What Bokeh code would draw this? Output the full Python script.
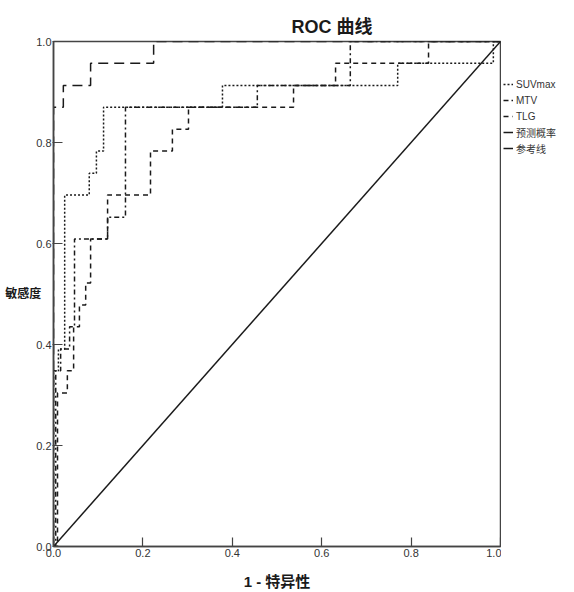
from bokeh.plotting import figure
from bokeh.models import Legend, LegendItem, Range1d, FixedTicker
from bokeh.layouts import row
from bokeh.embed import file_html
from bokeh.resources import INLINE

# ---- data (staircase vertices: 1-specificity, sensitivity)
suv_fpr = [0, 0, 0.011, 0.011, 0.025, 0.025, 0.080, 0.080, 0.096, 0.096, 0.112, 0.112, 0.378, 0.378, 0.770, 0.770, 0.984, 0.984, 1.0]
suv_tpr = [0, 0.348, 0.348, 0.391, 0.391, 0.696, 0.696, 0.739, 0.739, 0.783, 0.783, 0.870, 0.870, 0.913, 0.913, 0.957, 0.957, 1.0, 1.0]

mtv_fpr = [0, 0.005, 0.005, 0.016, 0.016, 0.036, 0.036, 0.047, 0.047, 0.121, 0.121, 0.161, 0.161, 0.456, 0.456, 0.664, 0.664, 1.0]
mtv_tpr = [0, 0, 0.348, 0.348, 0.391, 0.391, 0.435, 0.435, 0.609, 0.609, 0.652, 0.652, 0.870, 0.870, 0.913, 0.913, 1.0, 1.0]

tlg_fpr = [0, 0.009, 0.009, 0.031, 0.031, 0.045, 0.045, 0.058, 0.058, 0.072, 0.072, 0.083, 0.083, 0.121, 0.121, 0.217, 0.217, 0.266, 0.266, 0.302, 0.302, 0.537, 0.537, 0.631, 0.631, 0.839, 0.839, 1.0]
tlg_tpr = [0, 0, 0.304, 0.304, 0.348, 0.348, 0.435, 0.435, 0.478, 0.478, 0.522, 0.522, 0.609, 0.609, 0.696, 0.696, 0.783, 0.783, 0.826, 0.826, 0.870, 0.870, 0.913, 0.913, 0.957, 0.957, 1.0, 1.0]

pred_fpr = [0, 0, 0.022, 0.022, 0.083, 0.083, 0.224, 0.224, 1.0]
pred_tpr = [0, 0.870, 0.870, 0.913, 0.913, 0.957, 0.957, 1.0, 1.0]

ref_x = [0, 1]
ref_y = [0, 1]

series_names = ["SUVmax", "MTV", "TLG", "预测概率", "参考线"]
series_dash = ["2 2", "5 3 2 3", "5 4", "10 6", "solid"]
series_x = [suv_fpr, mtv_fpr, tlg_fpr, pred_fpr, ref_x]
series_y = [suv_tpr, mtv_tpr, tlg_tpr, pred_tpr, ref_y]
tick_values = [0.0, 0.2, 0.4, 0.6, 0.8, 1.0]
tick_labels = {0.0: "0.0", 0.2: "0.2", 0.4: "0.4", 0.6: "0.6", 0.8: "0.8", 1.0: "1.0"}

FONT = "'Liberation Sans', 'Noto Sans CJK SC', sans-serif"
INK = "#1a1a1a"

# ---- main chart
p = figure(width=501, height=592, output_backend="svg", toolbar_location=None,
           x_range=Range1d(0, 1), y_range=Range1d(0, 1),
           min_border_left=53, min_border_right=1, min_border_top=41, min_border_bottom=46)

p.grid.visible = False
p.background_fill_color = "white"
p.border_fill_color = "white"
p.outline_line_color = "#444444"
p.outline_line_width = 1.5

p.title.text = "ROC 曲线"
p.title.text_font = FONT
p.title.text_font_size = "18px"
p.title.text_font_style = "bold"
p.title.text_color = INK
p.title.align = "left"
p.title.offset = 238

for ax in (p.xaxis[0], p.yaxis[0]):
    ax.ticker = FixedTicker(ticks=tick_values)
    ax.major_label_overrides = tick_labels
    ax.major_label_text_font = FONT
    ax.major_label_text_font_size = "11px"
    ax.major_label_text_color = "#333333"
    ax.axis_line_color = "#444444"
    ax.axis_line_width = 1.5
    ax.major_tick_line_color = "#444444"
    ax.major_tick_line_width = 1.2
    ax.minor_tick_line_color = None

p.xaxis.major_tick_in = 9
p.xaxis.major_tick_out = 0
p.xaxis.major_label_standoff = 2
p.xaxis.axis_label = "1 - 特异性"
p.xaxis.axis_label_text_font = FONT
p.xaxis.axis_label_text_font_size = "15px"
p.xaxis.axis_label_text_font_style = "bold"
p.xaxis.axis_label_text_color = INK
p.xaxis.axis_label_standoff = 13

p.yaxis.major_tick_in = 9
p.yaxis.major_tick_out = 1
p.yaxis.major_label_standoff = 1
p.yaxis.axis_label = "敏感度"
p.yaxis.axis_label_orientation = "horizontal"
p.yaxis.axis_label_text_font = FONT
p.yaxis.axis_label_text_font_size = "12px"
p.yaxis.axis_label_text_font_style = "bold"
p.yaxis.axis_label_text_color = INK
p.yaxis.axis_label_standoff = -8

for xs, ys, d in zip(series_x, series_y, series_dash):
    p.line(xs, ys, line_color=INK, line_width=1.5, line_dash=d)

# ---- legend strip to the right of the chart (its own lines fall outside its view)
p2 = figure(width=73, height=592, output_backend="svg", toolbar_location=None,
            title=None, x_axis_location=None, y_axis_location=None,
            x_range=Range1d(10, 11), y_range=Range1d(10, 11), min_border=0)
p2.grid.visible = False
p2.outline_line_color = None
p2.background_fill_color = "white"
p2.border_fill_color = "white"

items = []
for name, xs, ys, d in zip(series_names, series_x, series_y, series_dash):
    r = p2.line(xs, ys, line_color=INK, line_width=1.5, line_dash=d)
    items.append(LegendItem(label=name, renderers=[r]))

legend = Legend(items=items, location=(2, 390), orientation="vertical",
                background_fill_alpha=0, border_line_color=None,
                label_text_font=FONT, label_text_font_size="10px",
                label_text_color="#333333", glyph_width=10, glyph_height=16,
                label_height=16, label_standoff=3, spacing=0, padding=0, margin=0)
p2.add_layout(legend)

open("out.html", "w").write(file_html(row(p, p2), INLINE))
